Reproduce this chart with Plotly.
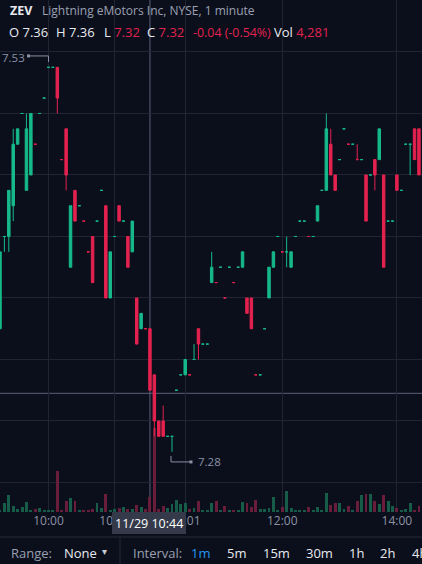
import plotly.graph_objects as go

# ---------------- data ----------------
first_bar = -1  # index of the first (partly hidden) bar
opens = [7.36, 7.42, 7.42, 7.44, 7.48, 7.50, 7.45, 7.46, 7.48, 7.50, 7.51, 7.53, 7.53, 7.53, 7.47, 7.49,
         7.40, 7.45, 7.44, 7.43, 7.41, 7.42, 7.43, 7.45, 7.44, 7.38, 7.42, 7.44, 7.43, 7.42, 7.41, 7.38,
         7.36, 7.36, 7.36, 7.33, 7.30, 7.30, 7.29, 7.29, 7.32, 7.33, 7.33, 7.33, 7.34, 7.36, 7.35, 7.35,
         7.39, 7.39, 7.40, 7.38, 7.40, 7.39, 7.40, 7.40, 7.38, 7.38, 7.33, 7.33, 7.36, 7.38, 7.40, 7.42,
         7.41, 7.41, 7.40, 7.42, 7.43, 7.43, 7.42, 7.42, 7.43, 7.45, 7.45, 7.48, 7.46, 7.47, 7.49, 7.48,
         7.48, 7.47, 7.47, 7.46, 7.46, 7.47, 7.47, 7.46, 7.43, 7.43, 7.46, 7.45, 7.48, 7.48, 7.49, 7.49]
highs = [7.41, 7.42, 7.45, 7.49, 7.49, 7.50, 7.50, 7.50, 7.48, 7.50, 7.51, 7.53, 7.53, 7.53, 7.47, 7.49,
         7.44, 7.45, 7.44, 7.43, 7.41, 7.42, 7.43, 7.45, 7.44, 7.41, 7.42, 7.44, 7.43, 7.42, 7.43, 7.38,
         7.37, 7.36, 7.36, 7.33, 7.30, 7.31, 7.29, 7.29, 7.32, 7.33, 7.34, 7.33, 7.35, 7.36, 7.35, 7.35,
         7.41, 7.39, 7.40, 7.38, 7.40, 7.39, 7.40, 7.41, 7.38, 7.38, 7.33, 7.33, 7.36, 7.40, 7.41, 7.42,
         7.41, 7.42, 7.41, 7.42, 7.43, 7.43, 7.42, 7.42, 7.44, 7.45, 7.50, 7.49, 7.46, 7.47, 7.49, 7.48,
         7.48, 7.48, 7.47, 7.46, 7.46, 7.47, 7.49, 7.46, 7.43, 7.43, 7.46, 7.45, 7.48, 7.48, 7.49, 7.49]
lows = [7.36, 7.41, 7.41, 7.43, 7.48, 7.50, 7.45, 7.46, 7.48, 7.50, 7.51, 7.53, 7.53, 7.50, 7.47, 7.45,
        7.40, 7.43, 7.44, 7.43, 7.41, 7.39, 7.43, 7.45, 7.38, 7.38, 7.42, 7.43, 7.43, 7.40, 7.41, 7.35,
        7.36, 7.36, 7.32, 7.29, 7.29, 7.29, 7.29, 7.28, 7.32, 7.33, 7.33, 7.33, 7.34, 7.34, 7.35, 7.35,
        7.39, 7.39, 7.40, 7.38, 7.40, 7.39, 7.40, 7.40, 7.37, 7.36, 7.33, 7.33, 7.36, 7.38, 7.40, 7.42,
        7.41, 7.40, 7.40, 7.42, 7.43, 7.43, 7.42, 7.42, 7.43, 7.45, 7.45, 7.46, 7.45, 7.47, 7.49, 7.48,
        7.48, 7.47, 7.47, 7.43, 7.46, 7.45, 7.47, 7.40, 7.43, 7.43, 7.45, 7.45, 7.48, 7.46, 7.47, 7.46]
closes = [7.41, 7.42, 7.45, 7.48, 7.49, 7.50, 7.49, 7.50, 7.48, 7.50, 7.51, 7.53, 7.53, 7.51, 7.47, 7.46,
          7.44, 7.43, 7.44, 7.43, 7.41, 7.39, 7.43, 7.45, 7.38, 7.41, 7.42, 7.43, 7.43, 7.40, 7.43, 7.35,
          7.37, 7.36, 7.32, 7.30, 7.29, 7.29, 7.29, 7.29, 7.32, 7.33, 7.34, 7.33, 7.34, 7.35, 7.35, 7.35,
          7.40, 7.39, 7.40, 7.38, 7.40, 7.39, 7.40, 7.41, 7.37, 7.36, 7.33, 7.33, 7.36, 7.40, 7.41, 7.42,
          7.41, 7.41, 7.41, 7.42, 7.43, 7.43, 7.42, 7.42, 7.44, 7.45, 7.49, 7.46, 7.45, 7.47, 7.49, 7.48,
          7.48, 7.47, 7.47, 7.43, 7.46, 7.46, 7.49, 7.40, 7.43, 7.43, 7.45, 7.45, 7.48, 7.48, 7.47, 7.46]
rising = [1, 1, 1, 1, 1, 1, 1, 1, 0, 1, 1, 1, 1, 0, 0, 0,
          1, 0, 1, 0, 0, 0, 1, 1, 0, 1, 1, 0, 1, 0, 1, 0,
          1, 0, 0, 0, 0, 0, 1, 1, 1, 1, 1, 0, 1, 0, 1, 1,
          1, 0, 1, 0, 1, 0, 1, 1, 0, 0, 0, 1, 1, 1, 1, 1,
          0, 1, 1, 1, 1, 1, 0, 1, 1, 1, 1, 0, 0, 1, 1, 0,
          1, 0, 1, 0, 1, 0, 1, 0, 1, 1, 0, 1, 1, 1, 0, 0]
volumes = [570, 2570, 4850, 1710, 860, 1430, 2850, 570, 860, 1140, 570, 570, 570, 11700, 570, 3140,
           4000, 3140, 570, 570, 570, 860, 2570, 1140, 5140, 570, 860, 1140, 1430, 860, 860, 2000,
           1430, 860, 4281, 23970, 860, 1710, 1140, 2280, 3420, 2280, 2570, 860, 1140, 3140, 570, 570,
           2570, 3140, 570, 1710, 570, 570, 570, 2850, 2570, 1430, 3420, 860, 860, 1140, 4281, 570,
           1430, 5990, 1140, 570, 570, 570, 1430, 570, 1430, 570, 5420, 2000, 2570, 2570, 860, 1710,
           570, 3140, 4850, 5140, 5140, 3140, 2280, 4850, 3140, 1710, 1140, 570, 860, 2570, 570, 1710]
tick_bars = [10, 25, 41, 63, 89]
tick_labels = ["10:00", "10:30", "11:01", "12:00", "14:00"]
hover_bar = 33
hover_label = "11/29 10:44"
hover_volume = "4,281"
crosshair_price = 7.318
symbol = "ZEV"
description = "Lightning eMotors Inc, NYSE, 1 minute"
intervals = ["1m", "5m", "15m", "30m", "1h", "2h", "4h"]

# ---------------- styling ----------------
BG = "#0b0f1c"
GRID = "#212533"
UP = "#16b98a"
DN = "#e4224f"
VUP = "#175b49"
VDN = "#6a1d3b"
DIM = "#8c92a4"
CROSS = "#5a6179"
WHITE = "#e8eaf0"
FONT = "Open Sans"

W, H = 422, 564
PLOT_H = 512
x_range = [-0.998, 94.69]
y_range = [7.2408, 7.5738]
UNIT_PX = W / (x_range[1] - x_range[0])
PRICE_PX = PLOT_H / (y_range[1] - y_range[0])

xs = list(range(first_bar, first_bar + len(opens)))

fig = go.Figure()

# volume (base axis, drawn beneath)
fig.add_trace(go.Bar(x=xs, y=volumes, width=0.66,
                     marker=dict(color=[VUP if r else VDN for r in rising], line=dict(width=0)),
                     yaxis="y", hoverinfo="skip"))

# candles, split so each bar gets its own colour
for flag, col in ((1, UP), (0, DN)):
    idx = [i for i, r in enumerate(rising) if r == flag]
    fig.add_trace(go.Candlestick(
        x=[xs[i] for i in idx], open=[opens[i] for i in idx], high=[highs[i] for i in idx],
        low=[lows[i] for i in idx], close=[closes[i] for i in idx],
        increasing=dict(line=dict(color=col, width=1), fillcolor=col),
        decreasing=dict(line=dict(color=col, width=1), fillcolor=col),
        whiskerwidth=0, yaxis="y2", hoverinfo="skip"))

shapes = []
# crosshair (beneath candles)
shapes.append(dict(type="line", xref="x", yref="y2", x0=hover_bar, x1=hover_bar,
                   y0=y_range[0], y1=y_range[1], line=dict(color=CROSS, width=1), layer="below"))
shapes.append(dict(type="line", xref="x", yref="y2", x0=x_range[0], x1=x_range[1],
                   y0=crosshair_price, y1=crosshair_price, line=dict(color=CROSS, width=1), layer="below"))

# high / low markers
hi = max(highs); hi_i = highs.index(hi); hi_x = xs[hi_i]
lo = min(lows); lo_i = lows.index(lo); lo_x = xs[lo_i]
MK = "#8a91a6"
hy = hi + 11.4 / PRICE_PX
shapes += [
    dict(type="line", xref="x", yref="y2", x0=hi_x - 20 / UNIT_PX, x1=hi_x, y0=hy, y1=hy, line=dict(color=MK, width=1)),
    dict(type="line", xref="x", yref="y2", x0=hi_x, x1=hi_x, y0=hy, y1=hi + 5.4 / PRICE_PX, line=dict(color=MK, width=1)),
    dict(type="rect", xref="x", yref="y2", x0=hi_x - 21.5 / UNIT_PX, x1=hi_x - 18.5 / UNIT_PX,
         y0=hy - 1.5 / PRICE_PX, y1=hy + 1.5 / PRICE_PX, fillcolor=MK, line=dict(width=0)),
]
ly = lo - 10.2 / PRICE_PX
lx = lo_x - 1 / UNIT_PX
shapes += [
    dict(type="line", xref="x", yref="y2", x0=lx, x1=lx, y0=lo - 4.2 / PRICE_PX, y1=ly, line=dict(color=MK, width=1)),
    dict(type="line", xref="x", yref="y2", x0=lx, x1=lo_x + 19 / UNIT_PX, y0=ly, y1=ly, line=dict(color=MK, width=1)),
    dict(type="rect", xref="x", yref="y2", x0=lo_x + 17.5 / UNIT_PX, x1=lo_x + 20.5 / UNIT_PX,
         y0=ly - 1.5 / PRICE_PX, y1=ly + 1.5 / PRICE_PX, fillcolor=MK, line=dict(width=0)),
]

def py(p):  # pixel row -> paper y
    return (PLOT_H - p) / PLOT_H

def px(p):
    return p / W

# toolbar separators and date tooltip
shapes += [
    dict(type="line", xref="paper", yref="paper", x0=0, x1=1, y0=py(537), y1=py(537), line=dict(color="#262a38", width=1)),
    dict(type="line", xref="paper", yref="paper", x0=px(120), x1=px(120), y0=py(537), y1=py(564), line=dict(color="#262a38", width=1)),
    dict(type="rect", xref="paper", yref="paper", x0=px(112), x1=px(186), y0=py(512), y1=py(534),
         fillcolor="#353a4a", line=dict(width=0), layer="above"),
]

ann = []
def text(x, y, s, size=13, color=WHITE, anchor="left", xref="paper", yref="paper"):
    ann.append(dict(x=x, y=y, xref=xref, yref=yref, text=s, showarrow=False, xanchor=anchor,
                    yanchor="middle", font=dict(family=FONT, size=size, color=color)))

R = DN
text(px(8), py(10), "<b>%s</b>" % symbol, 12.5, WHITE)
text(px(40), py(10), description, 12, "#9ba1b2")
i_h = hover_bar - first_bar
o, h_, l_, c_ = opens[i_h], highs[i_h], lows[i_h], closes[i_h]
prev_c = closes[i_h - 1]
chg = c_ - prev_c
pct = chg / prev_c * 100
lc = lambda v, ref: (R if v < ref else WHITE)
RS = 13
text(px(7), py(32), "O %.2f" % o, RS)
text(px(54), py(32), "H <span style='color:%s'>%.2f</span>" % (lc(h_, o), h_), RS)
text(px(102), py(32), "L <span style='color:%s'>%.2f</span>" % (lc(l_, o), l_), RS)
text(px(145), py(32), "C <span style='color:%s'>%.2f</span>" % (lc(c_, o), c_), RS)
text(px(191), py(32), "%.2f (%.2f%%)" % (chg, pct), 12.4, R)
text(px(272), py(32), "Vol <span style='color:%s'>%s</span>" % (R, hover_volume), RS)

# high / low labels
text(hi_x - 48.5 / UNIT_PX, hy - 1.3 / PRICE_PX, "%.2f" % hi, 11.5, MK, "left", "x", "y2")
text(lo_x + 24.5 / UNIT_PX, ly, "%.2f" % lo, 11.5, MK, "left", "x", "y2")

# date tooltip text
text(px(149), py(523), hover_label, 12.5, "#ffffff", "center")

# toolbar
text(px(9), py(553), "Range:", 13, "#9aa0b0")
text(px(62), py(553), "None", 13, WHITE)
text(px(100), py(551), "▾", 10, "#c8ccd6")
text(px(131), py(553), "Interval:", 13, "#9aa0b0")
iv_x = [189, 225, 261, 304, 347, 378, 410]
for lab, xx in zip(intervals, iv_x):
    text(px(xx), py(553), lab, 13, "#2196f3" if lab == "1m" else WHITE)

fig.update_layout(
    width=W, height=H, margin=dict(l=0, r=0, t=0, b=H - PLOT_H),
    paper_bgcolor=BG, plot_bgcolor=BG, showlegend=False, hovermode=False,
    boxgap=0.25, boxgroupgap=0.25, bargap=0,
    xaxis=dict(range=x_range, tickvals=tick_bars, ticktext=tick_labels, showgrid=True, gridcolor=GRID,
               gridwidth=1, zeroline=False, showline=False, ticks="",
               tickfont=dict(family=FONT, size=12, color=DIM), rangeslider=dict(visible=False)),
    yaxis=dict(range=[0, max(volumes) * PLOT_H / 84], visible=False, showgrid=False),
    yaxis2=dict(overlaying="y", range=y_range, tick0=7.26, dtick=0.04, showgrid=True, gridcolor=GRID,
                showticklabels=False, zeroline=False, ticks="", side="right", showline=False),
    shapes=shapes, annotations=ann,
)

fig.write_html("out.html", config={"displayModeBar": False},
               post_script="document.body.style.margin='0';document.body.style.background='%s';document.body.style.overflow='hidden';" % BG)
